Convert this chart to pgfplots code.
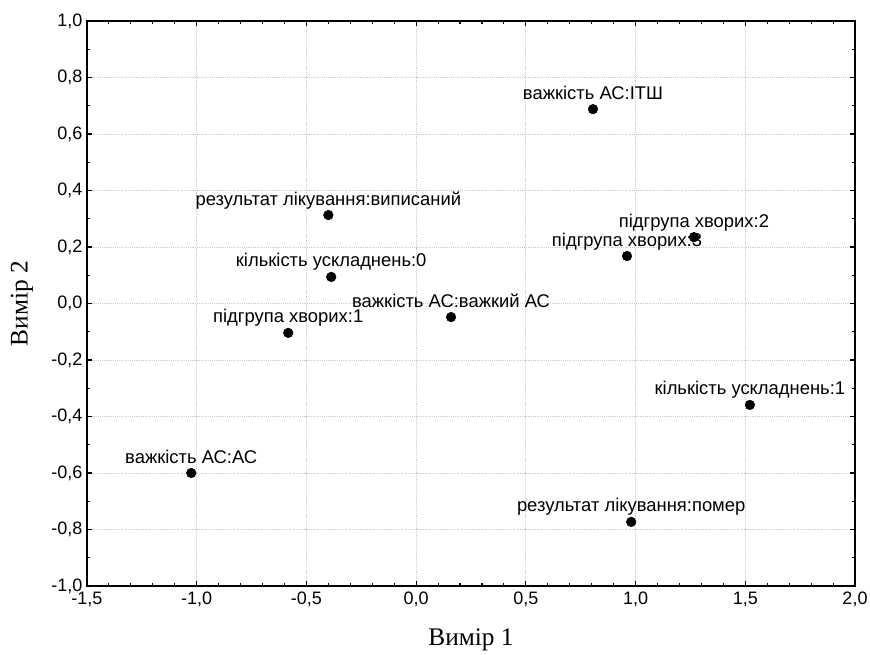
\documentclass[border=0pt]{standalone}
\usepackage{pgfplots}
\usepackage{pgfplotstable}
\pgfplotsset{compat=1.18}
\usepackage{fontspec}
\setmainfont{Liberation Sans}
\newfontfamily\serif{Liberation Serif}

% coordinates of the categories (dimension 1, dimension 2)
\pgfplotstableread{
x      y       label
0.806  0.688   {важкість АС:ІТШ}
-0.400 0.313   {результат лікування:виписаний}
1.266  0.235   {підгрупа хворих:2}
0.961  0.168   {підгрупа хворих:3}
-0.387 0.094   {кількість ускладнень:0}
0.159  -0.048  {важкість АС:важкий АС}
-0.583 -0.104  {підгрупа хворих:1}
1.521  -0.359  {кількість ускладнень:1}
-1.025 -0.600  {важкість АС:АС}
0.980  -0.773  {результат лікування:помер}
}\pts

\begin{document}
\begin{tikzpicture}
\begin{axis}[
  scale only axis,
  width=576pt, height=423.75pt,
  xmin=-1.5, xmax=2, ymin=-1, ymax=1,
  xtick distance=0.5, ytick distance=0.2,
  minor x tick num=4, minor y tick num=1,
  tick align=inside,
  major tick length=3.75pt, minor tick length=2.25pt,
  grid=major,
  grid style={densely dotted, black!20, line width=0.6pt},
  axis line style={line width=1.2pt},
  tick style={black, line width=0.8pt},
  ticklabel style={font=\fontsize{13.5}{15}\selectfont},
  xticklabel style={yshift=-1pt},
  /pgf/number format/use comma,
  /pgf/number format/fixed,
  /pgf/number format/fixed zerofill,
  /pgf/number format/precision=1,
  /pgf/number format/assume math mode=true,
  xlabel={Вимір 1}, ylabel={Вимір 2},
  xlabel style={font=\serif\fontsize{19}{22}\selectfont,
    at={(axis description cs:0.5,-0.0956)}, anchor=center},
  ylabel style={font=\serif\fontsize{19}{22}\selectfont,
    at={(axis description cs:-0.0846,0.5)}, anchor=center},
]
\addplot[only marks, mark=*, mark size=3.6pt, black,
  point meta=explicit symbolic,
  nodes near coords,
  nodes near coords style={anchor=base, yshift=7.5pt, inner sep=0pt,
    text=black, font=\fontsize{13.8}{15}\selectfont}]
  table[x=x, y=y, meta=label] {\pts};
\end{axis}
\pgfresetboundingbox
\path ([xshift=-65.25pt, yshift=-51pt]current axis.south west)
  rectangle ([xshift=11.25pt, yshift=15.75pt]current axis.north east);
\end{tikzpicture}
\end{document}
